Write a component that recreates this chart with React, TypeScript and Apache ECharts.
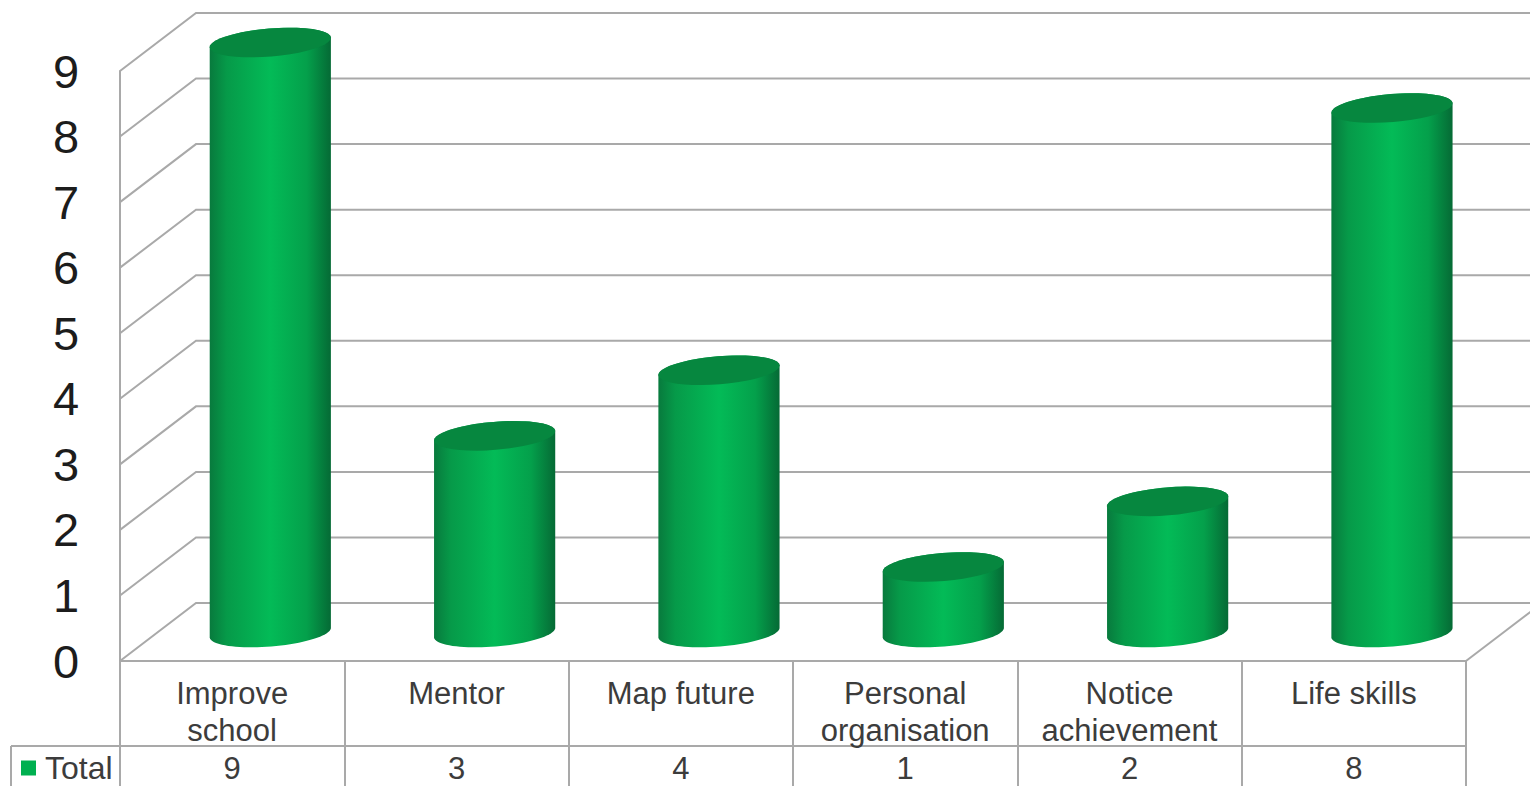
import React, { useEffect, useRef } from "react";
import * as echarts from "echarts";

const categories = ["Improve\nschool", "Mentor", "Map future", "Personal\norganisation", "Notice\nachievement", "Life skills"];
const totals = [9, 3, 4, 1, 2, 8];
const valueTicks = [0, 1, 2, 3, 4, 5, 6, 7, 8, 9];
const seriesName = "Total";

const LINE = "#a9a9a9";
const TEXT = "#3c3c3c";
const FONT = "'Liberation Sans', Arial, sans-serif";

// Depth of the fake 3D box: how far the back wall sits from the front plane.
const DEPTH_X = 76;
const DEPTH_Y = 58;
const PAGE_W = 1530;
const PAGE_H = 786;

const sideFill = {
  type: "linear", x: 0, y: 0, x2: 1, y2: 0,
  colorStops: [
    { offset: 0, color: "#087a3d" },
    { offset: 0.14, color: "#069a49" },
    { offset: 0.5, color: "#03bb57" },
    { offset: 0.8, color: "#04a04b" },
    { offset: 1, color: "#056a35" },
  ],
};

// Back wall and left wall rules, one per value tick.
function renderWall(params: any, api: any) {
  const y = api.coord([0, api.value(1)])[1];
  const x0 = params.coordSys.x;
  const right = params.coordSys.x + params.coordSys.width;
  return {
    type: "group",
    children: [
      {
        type: "polyline",
        shape: { points: [[x0, y], [x0 + DEPTH_X, y - DEPTH_Y], [PAGE_W, y - DEPTH_Y]] },
        style: { stroke: LINE, lineWidth: 2, fill: "none" },
      },
      ...(api.value(1) === 0
        ? [{
            type: "line",
            shape: { x1: right, y1: y, x2: right + DEPTH_X, y2: y - DEPTH_Y },
            style: { stroke: LINE, lineWidth: 2 },
          }]
        : []),
    ],
  };
}

// Points along a tilted ellipse between two parameter angles.
function ellipseArc(cx: number, cy: number, rx: number, ry: number, tilt: number, from: number, to: number) {
  const pts: number[][] = [];
  const steps = 40;
  for (let i = 0; i <= steps; i++) {
    const t = from + ((to - from) * i) / steps;
    pts.push([
      cx + rx * Math.cos(t) * Math.cos(tilt) + ry * Math.sin(t) * Math.sin(tilt),
      cy - rx * Math.cos(t) * Math.sin(tilt) + ry * Math.sin(t) * Math.cos(tilt),
    ]);
  }
  return pts;
}

// One cylinder: shaded side with a rounded foot, darker tilted cap on top.
function renderCylinder(_params: any, api: any) {
  const band = api.size([1, 0])[0];
  const base = api.coord([api.value(0), 0]);
  const top = api.coord([api.value(0), api.value(1)]);
  const rx = band * 0.271;
  const ry = 14;
  const tilt = (4.7 * Math.PI) / 180;
  const cx = base[0] + band * 0.17;
  const lift = 28.5;
  const yBase = base[1] - lift;
  const yTop = top[1] - lift;
  const side = [
    ...ellipseArc(cx, yBase, rx, ry, tilt, 0, Math.PI),
    ...ellipseArc(cx, yTop, rx, ry, tilt, Math.PI, Math.PI * 2),
  ];
  const cap = ellipseArc(cx, yTop, rx, ry, tilt, 0, Math.PI * 2);
  return {
    type: "group",
    children: [
      { type: "polygon", shape: { points: side }, style: { fill: sideFill } },
      { type: "polygon", shape: { points: cap }, style: { fill: "#06873f" } },
    ],
  };
}

export default function App() {
  const ref = useRef<HTMLDivElement>(null);

  useEffect(() => {
    const chart = echarts.init(ref.current!, undefined, { renderer: "svg" });
    chart.setOption({
      animation: false,
      backgroundColor: "#ffffff",
      grid: { left: 120, right: PAGE_W - 1466, top: 71, bottom: PAGE_H - 661, containLabel: false },
      legend: {
        data: [{ name: seriesName, icon: "rect" }],
        left: 21,
        top: 752,
        padding: 0,
        itemWidth: 15,
        itemHeight: 15,
        itemGap: 0,
        selectedMode: false,
        textStyle: { fontFamily: FONT, fontSize: 32, color: TEXT, padding: [0, 0, 0, 4] },
      },
      xAxis: [
        {
          type: "category",
          data: categories,
          position: "bottom",
          axisLine: { show: true, lineStyle: { color: LINE, width: 2 } },
          axisTick: { show: true, length: PAGE_H - 661, lineStyle: { color: LINE, width: 2 } },
          axisLabel: {
            interval: 0,
            margin: 14,
            fontFamily: FONT,
            fontSize: 31,
            lineHeight: 37,
            color: TEXT,
          },
        },
        {
          type: "category",
          data: totals.map(String),
          position: "bottom",
          offset: 85,
          axisLine: { show: false },
          axisTick: { show: false },
          axisLabel: {
            interval: 0,
            margin: 7,
            fontFamily: FONT,
            fontSize: 31,
            lineHeight: 30,
            color: TEXT,
          },
        },
      ],
      yAxis: {
        type: "value",
        min: 0,
        max: 9,
        interval: 1,
        axisLine: { show: true, lineStyle: { color: LINE, width: 2 } },
        axisTick: { show: false },
        splitLine: { show: false },
        axisLabel: {
          align: "center",
          margin: 54,
          fontFamily: FONT,
          fontSize: 47,
          color: "#1c1c1c",
          padding: [0, 0, 2, 0],
        },
      },
      // Rules that close off the data table under the plot.
      graphic: [
        { type: "line", shape: { x1: 11, y1: 746, x2: 1466, y2: 746 }, style: { stroke: LINE, lineWidth: 2 } },
        { type: "line", shape: { x1: 11, y1: 746, x2: 11, y2: PAGE_H }, style: { stroke: LINE, lineWidth: 2 } },
      ],
      series: [
        {
          type: "custom",
          name: "walls",
          xAxisIndex: 1,
          coordinateSystem: "cartesian2d",
          renderItem: renderWall,
          data: valueTicks.map((v) => [0, v]),
          encode: { x: 0, y: 1 },
          silent: true,
          clip: false,
          z: 1,
        },
        {
          type: "custom",
          name: seriesName,
          coordinateSystem: "cartesian2d",
          renderItem: renderCylinder,
          data: totals.map((v, i) => [i, v]),
          encode: { x: 0, y: 1 },
          itemStyle: { color: "#00b050" },
          clip: false,
          z: 3,
        },
      ],
    });
    return () => chart.dispose();
  }, []);

  return (
    <div
      ref={ref}
      style={{ position: "fixed", left: 0, top: 0, width: PAGE_W, height: PAGE_H }}
    />
  );
}
